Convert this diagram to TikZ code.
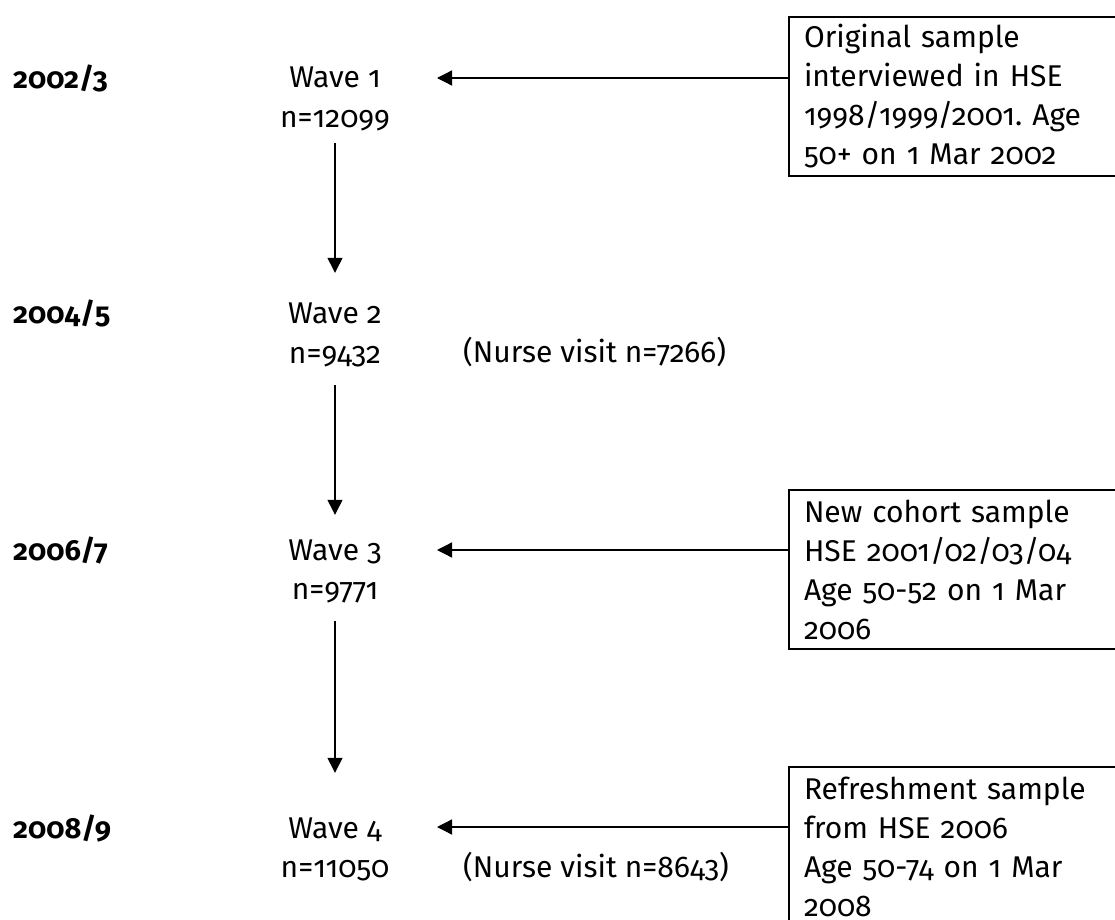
\documentclass[tikz,border=0pt]{standalone}
\usepackage{fontspec}
\setmainfont{Fira Sans}[Numbers=OldStyle]
\usetikzlibrary{arrows.meta}
\frenchspacing
\begin{document}
\begin{tikzpicture}[x=1bp, y=-1bp,
  every node/.style={font=\fontsize{30bp}{39bp}\selectfont, inner sep=0pt},
  year/.style={anchor=base west, font=\fontsize{29bp}{39bp}\selectfont\bfseries},
  wave/.style={anchor=base, text height=20bp, text depth=6bp},
  note/.style={anchor=base west},
  source/.style={draw, line width=2bp, anchor=north west, text width=370bp,
    align=left, minimum height=159bp, inner xsep=15bp, inner ysep=0pt},
  flow/.style={line width=1.3bp, -{Triangle[length=15bp,width=15bp]}}]
  \useasboundingbox (0,0) rectangle (1115,920);
  \clip (0,0) rectangle (1115,920);

  % survey years
  \node[year] (y1) at (13,88) {2002/3};
  \node[year] (y2) at (13,323) {2004/5};
  \node[year] (y3) at (13,560) {2006/7};
  \node[year] (y4) at (13,838) {2008/9};

  % waves and sample sizes
  \node[wave] (w1) at (335,87) {Wave 1};
  \node[wave] (n1) at (335,127) {n=12099};
  \node[wave] (w2) at (335,323) {Wave 2};
  \node[wave] (n2) at (335,363) {n=9432};
  \node[wave] (w3) at (335,560) {Wave 3};
  \node[wave] (n3) at (335,599) {n=9771};
  \node[wave] (w4) at (335,838) {Wave 4};
  \node[wave] (n4) at (335,877) {n=11050};

  % nurse visits
  \node[note] (v2) at (463,362) {(Nurse visit n=7266)};
  \node[note] (v4) at (463,877) {(Nurse visit n=8643)};

  % sample sources
  \node[source] (s1) at (788,16) {Original sample\\interviewed in HSE\\1998/1999/2001. Age\\50+ on 1 Mar 2002};
  \node[source] (s3) at (788,489) {New cohort sample\\HSE 2001/02/03/04\\Age 50-52 on 1 Mar\\2006};
  \node[source] (s4) at (788,766) {Refreshment sample\\from HSE 2006\\Age 50-74 on 1 Mar\\2008};

  % arrow tips beside the wave labels
  \coordinate (t1) at (437,78);
  \coordinate (t3) at (437,550);
  \coordinate (t4) at (437,827);

  % wave to wave
  \draw[flow, shorten <=10bp, shorten >=30bp] (n1.south) -- (w2.north);
  \draw[flow, shorten <=16bp, shorten >=25bp] (n2.south) -- (w3.north);
  \draw[flow, shorten <=16bp, shorten >=45bp] (n3.south) -- (w4.north);

  % sources feeding the waves
  \draw[flow] (s1.west |- t1) -- (t1);
  \draw[flow] (s3.west |- t3) -- (t3);
  \draw[flow] (s4.west |- t4) -- (t4);
\end{tikzpicture}
\end{document}
